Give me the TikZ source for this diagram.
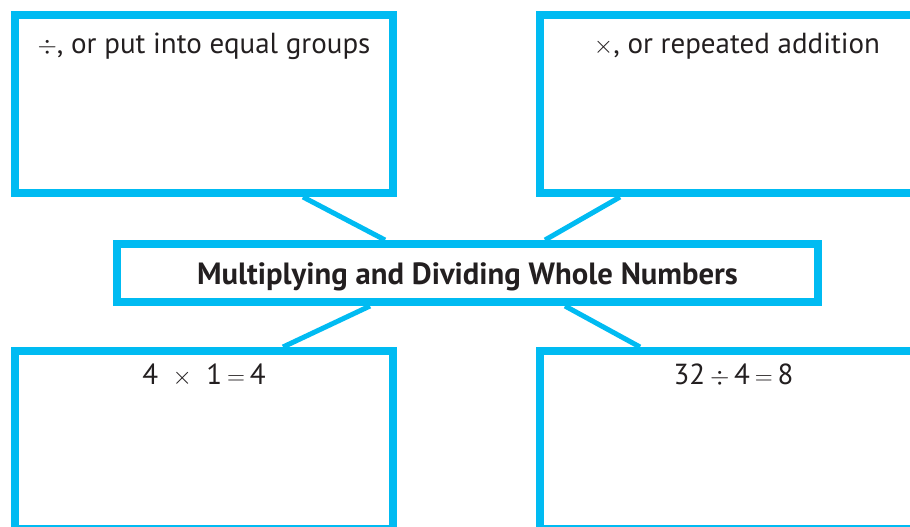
\documentclass[tikz,border=0pt]{standalone}
\usepackage{fontspec}
\setmainfont{PT Sans}
\usepackage{tikz}

\definecolor{mapblue}{RGB}{0,187,242}
\definecolor{ink}{RGB}{35,31,32}

\begin{document}
\begin{tikzpicture}[
  x=1pt,y=-1pt,
  box/.style={draw=mapblue,line width=8pt,inner sep=0pt,
    minimum width=378pt,minimum height=178pt},
  hubbox/.style={draw=mapblue,line width=8pt,inner sep=0pt,
    minimum width=701pt,minimum height=58pt},
  link/.style={draw=mapblue,line width=5pt},
  note/.style={text=ink,inner sep=0pt,anchor=base,
    font=\fontsize{29}{34}\selectfont},
  title/.style={note,font=\fontsize{30.7}{36}\selectfont\bfseries}
]
  \useasboundingbox (0,0) rectangle (910,527);
  \clip (0,0) rectangle (910,527);

  % Centre box and the four boxes round it.
  \node[hubbox] (hub) at (467.5,273) {};
  \node[box] (tl) at (204,104) {};
  \node[box] (tr) at (729,104) {};
  \node[box] (bl) at (204,440) {};
  \node[box] (br) at (729,440) {};

  % Links from the centre box out to the four boxes.
  \draw[link] ([xshift=99pt]tl.south) -- ([xshift=-82.5pt]hub.north);
  \draw[link] ([xshift=-109pt]tr.south) -- ([xshift=77.5pt]hub.north);
  \draw[link] ([xshift=-97.5pt]hub.south) -- ([xshift=79pt]bl.north);
  \draw[link] ([xshift=97.5pt]hub.south) -- ([xshift=-89pt]br.north);

  % Texts.
  \node[title] (hubtext) at ([yshift=-11pt]hub.center)
    {Multiplying and Dividing Whole Numbers};
  \node[note] (tltext) at ([yshift=-42pt]tl.north) {$\div$, or put into equal groups};
  \node[note] (trtext) at ([xshift=8pt,yshift=-42pt]tr.north) {$\times$, or repeated addition};
  \node[note] (bltext) at ([yshift=-37pt]bl.north) {4\enspace$\times$\enspace1\,$=$\,4};
  \node[note] (brtext) at ([xshift=4.5pt,yshift=-37pt]br.north) {32\,$\div$\,4\,$=$\,8};
\end{tikzpicture}
\end{document}
